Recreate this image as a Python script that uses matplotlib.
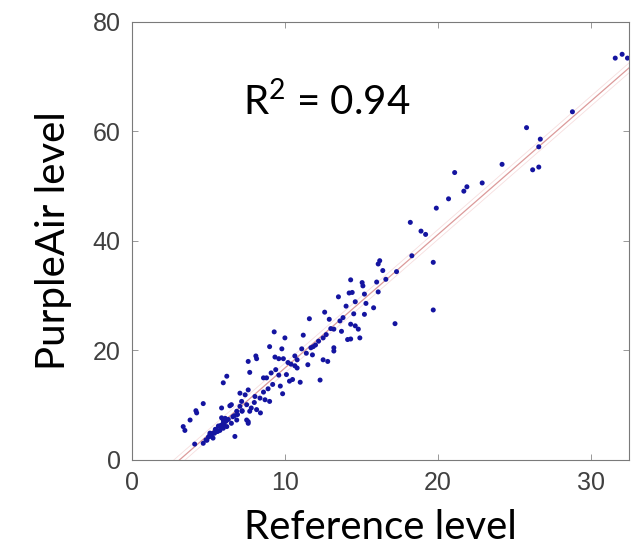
import numpy as np
import matplotlib.pyplot as plt

# reference (x) and PurpleAir (y) readings
ref_level = [
    31.6, 32.05, 32.4, 28.8, 25.8, 26.7, 26.6, 26.2, 26.6, 24.2,
    21.1, 22.9, 21.9, 21.7, 20.7, 19.9, 18.2, 18.9, 19.2, 18.3,
    19.7, 16.2, 16.1, 16.4, 17.3, 19.7, 17.2, 16.6, 14.3, 15.05,
    15.1, 16.0, 16.1, 14.2, 14.4, 13.5, 15.2, 14.6, 15.3, 12.6,
    14.0, 15.8, 11.6, 12.9, 13.6, 14.5, 15.2, 14.3, 14.6, 14.8,
    13.2, 13.7, 12.7, 12.5, 12.2, 11.2, 9.3, 10.0, 14.1, 14.3,
    14.9, 11.7, 11.85, 11.1, 13.2, 13.2, 9.0, 9.8, 9.35, 9.6,
    9.9, 8.1, 8.15, 7.6, 10.65, 10.8, 12.5, 12.8, 11.5, 10.65,
    10.8, 7.7, 8.6, 8.8, 9.2, 9.7, 10.1, 10.3, 10.5, 11.0,
    12.3, 9.85, 6.2, 5.97, 7.06, 7.4, 7.6, 8.04, 8.37, 8.7,
    9.0, 7.5, 7.8, 8.15, 8.4, 7.5, 7.6, 6.7, 6.85, 6.5,
    6.1, 5.97, 5.75, 5.86, 6.4, 4.66, 4.18, 4.23, 3.8, 3.35,
    3.46, 6.73, 4.1, 4.66, 4.84, 5.1, 5.3, 5.5, 5.75, 5.97,
    6.2, 5.0, 5.2, 5.4, 5.6, 6.85, 7.06, 8.9, 9.4, 10.4,
    11.4, 12.0, 13.0, 13.8, 7.2, 8.0, 6.0, 5.3, 4.9, 9.6,
    5.1, 5.45, 5.8, 6.05, 6.3, 6.6, 6.9, 7.2, 5.65, 6.15,
    6.5, 5.86, 5.97, 7.6, 7.7, 7.17, 8.6, 9.1, 10.2, 11.8,
]
purpleair_level = [
    73.4, 74.1, 73.4, 63.6, 60.7, 58.6, 57.2, 53.0, 53.5, 54.0,
    52.5, 50.6, 49.9, 49.1, 47.7, 46.0, 43.4, 41.8, 41.2, 37.3,
    36.1, 36.4, 35.8, 34.6, 34.4, 27.4, 24.9, 33.0, 32.9, 32.4,
    31.8, 32.5, 30.7, 30.5, 30.6, 29.8, 30.3, 28.9, 28.6, 27.0,
    28.1, 27.8, 25.8, 25.7, 25.4, 26.7, 26.6, 24.8, 24.5, 23.9,
    23.9, 23.5, 22.9, 22.3, 21.7, 22.8, 23.4, 22.3, 22.0, 22.1,
    22.3, 20.5, 20.7, 20.3, 20.5, 19.9, 20.7, 20.3, 18.8, 18.5,
    18.5, 19.0, 18.5, 18.0, 19.0, 18.3, 18.3, 18.0, 17.4, 17.2,
    16.8, 16.0, 15.0, 15.0, 13.8, 13.5, 15.6, 14.4, 14.7, 14.2,
    14.6, 12.1, 15.3, 14.1, 12.2, 11.9, 12.8, 11.6, 11.3, 11.0,
    10.7, 10.1, 9.5, 9.2, 8.6, 7.3, 6.7, 8.1, 7.3, 6.7,
    7.6, 6.8, 6.1, 9.5, 9.9, 10.3, 9.0, 8.6, 7.3, 6.1,
    5.4, 4.3, 2.9, 3.05, 3.67, 4.6, 4.9, 5.5, 5.4, 5.8,
    6.1, 4.2, 4.3, 4.9, 5.2, 8.9, 9.8, 13.0, 16.5, 17.5,
    19.5, 21.0, 24.0, 26.0, 9.0, 10.5, 6.5, 4.0, 3.6, 15.5,
    4.9, 5.6, 6.3, 6.9, 7.4, 7.9, 8.3, 8.9, 6.2, 7.1,
    10.1, 7.7, 7.3, 7.0, 8.9, 10.7, 12.4, 15.9, 17.8, 19.2,
]

# fitted line
fit_slope = 2.436
fit_intercept = -7.56
r_squared = 0.94

label_font = 'Lato'
tick_font = 'Liberation Sans'

plt.rcParams['mathtext.fontset'] = 'custom'
plt.rcParams['mathtext.rm'] = 'Lato'

fig = plt.figure(figsize=(6.36, 5.55), dpi=100)
ax = fig.add_axes([0.2075, 0.1712, 0.7815, 0.7892])

x_line = np.array([0, 32.5])
y_line = fit_slope * x_line + fit_intercept
ax.plot(x_line, y_line + 0.9, color='#f7dede', lw=0.6)
ax.plot(x_line, y_line - 0.9, color='#f7dede', lw=0.6)
ax.plot(x_line, y_line, color='#dc9a9a', lw=0.9)

ax.scatter(ref_level, purpleair_level, s=13, color='#1414a0', edgecolors='none', zorder=3)

ax.set_xlim(0, 32.5)
ax.set_ylim(0, 80)
ax.set_xticks([0, 10, 20, 30])
ax.set_yticks([0, 20, 40, 60, 80])
ax.tick_params(direction='in', top=True, right=True, length=4, width=0.6,
               color='#888888', labelcolor='#404040', labelsize=18, pad=8)
for lab in ax.get_xticklabels() + ax.get_yticklabels():
    lab.set_fontfamily(tick_font)
for sp in ax.spines.values():
    sp.set_color('#7a7a7a')
    sp.set_linewidth(0.8)

ax.set_xlabel('Reference level', fontsize=29, family=label_font, labelpad=10)
ax.set_ylabel('PurpleAir level', fontsize=29, family=label_font, labelpad=15)
ax.text(7.25, 62.9, r'R$^{\mathrm{2}}$ = %.2f' % r_squared, fontsize=29,
        family=label_font)

fig.savefig('out.png', dpi=100)
